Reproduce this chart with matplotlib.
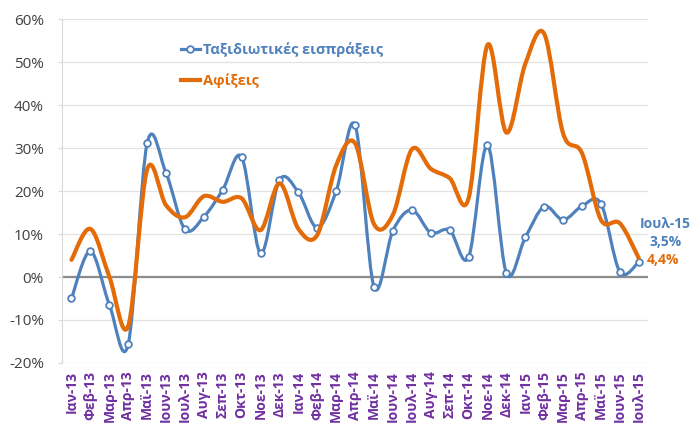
import matplotlib

matplotlib.use("Agg")

import matplotlib.pyplot as plt
import numpy as np
from matplotlib.lines import Line2D
from matplotlib.patches import PathPatch
from matplotlib.path import Path

plt.rcParams["font.family"] = ["Open Sans", "DejaVu Sans"]

BLUE = "#4F81BD"
ORANGE = "#E36C09"
PURPLE = "#7030A0"

months = ["Ιαν", "Φεβ", "Μαρ", "Απρ", "Μαϊ", "Ιουν", "Ιουλ", "Αυγ", "Σεπ", "Οκτ", "Νοε", "Δεκ"]
labels = [f"{m}-{y}" for y in ("13", "14") for m in months] + [f"{m}-15" for m in months[:7]]

# year-on-year change, %
receipts = [-5.0, 6.0, -6.4, -15.6, 31.1, 24.2, 11.1, 14.0, 20.3, 27.9, 5.5, 22.6,
            19.7, 11.5, 20.0, 35.3, -2.3, 10.8, 15.6, 10.3, 10.9, 4.6, 30.7, 0.9,
            9.2, 16.4, 13.3, 16.5, 17.1, 1.2, 3.5]
arrivals = [4.0, 11.2, 0.1, -11.4, 25.0, 16.7, 13.9, 18.8, 17.5, 18.3, 10.9, 21.8,
            11.2, 9.8, 26.0, 31.1, 12.3, 14.5, 29.7, 25.2, 23.0, 18.3, 54.0, 33.6,
            49.6, 56.6, 33.4, 28.8, 13.3, 12.5, 4.4]


def smooth_path(x, y):
    """Catmull-Rom curve through the points, as cubic bezier segments."""
    pts = np.column_stack([x, y]).astype(float)
    ext = np.vstack([pts[0], pts, pts[-1]])
    verts = [pts[0]]
    codes = [Path.MOVETO]
    for i in range(len(pts) - 1):
        p0, p1, p2, p3 = ext[i], ext[i + 1], ext[i + 2], ext[i + 3]
        verts += [p1 + (p2 - p0) / 6, p2 - (p3 - p1) / 6, p2]
        codes += [Path.CURVE4] * 3
    return Path(verts, codes)


fig = plt.figure(figsize=(6.97, 4.26), dpi=100)
ax = fig.add_axes([0.089, 0.148, 0.841, 0.807])

x = np.arange(len(labels))

ax.add_patch(PathPatch(smooth_path(x, receipts), fill=False, edgecolor=BLUE, lw=2.3,
                       capstyle="round", joinstyle="round", zorder=3))
ax.plot(x, receipts, ls="none", marker="o", ms=4.8, mfc="white", mec=BLUE, mew=1.3, zorder=4)
ax.add_patch(PathPatch(smooth_path(x, arrivals), fill=False, edgecolor=ORANGE, lw=3.0,
                       capstyle="round", joinstyle="round", zorder=5))

ax.set_xlim(-0.5, len(labels) - 0.5)
ax.set_ylim(-20, 60)
ax.set_yticks(np.arange(-20, 61, 10))
ax.set_yticklabels([f"{v}%" for v in range(-20, 61, 10)], fontsize=11, color="#404040")
ax.set_xticks(x)
ax.set_xticklabels(labels, rotation=90, fontsize=10, fontweight="bold", color=PURPLE)
ax.tick_params(axis="x", length=0, pad=6)
ax.tick_params(axis="y", length=3, width=0.8, color="#D9D9D9", pad=10)

ax.grid(axis="y", color="#E3E3E3", lw=0.9)
ax.set_axisbelow(True)
ax.axhline(0, color="#8C8C8C", lw=1.6, zorder=2)
for side in ("top", "right", "bottom"):
    ax.spines[side].set_visible(False)
ax.spines["left"].set_color("#D9D9D9")

handles = [
    Line2D([], [], color=BLUE, lw=2.3, marker="o", ms=4.8, mfc="white", mec=BLUE, mew=1.3),
    Line2D([], [], color=ORANGE, lw=3.0),
]
leg = ax.legend(handles, ["Ταξιδιωτικές εισπράξεις", "Αφίξεις"], loc="upper left",
                bbox_to_anchor=(0.18, 0.97), frameon=False, handlelength=1.3,
                handletextpad=0.2, labelspacing=1.05,
                prop={"size": 10.5, "weight": "bold"})
for text, c in zip(leg.get_texts(), [BLUE, ORANGE]):
    text.set_color(c)

last = len(labels) - 1
ax.text(last + 1.4, 12.3, labels[-1], color=BLUE, fontsize=10, fontweight="bold",
        ha="center", va="center", clip_on=False)
ax.text(last + 1.4, 8.1, f"{receipts[-1]:.1f}%".replace(".", ","), color=BLUE,
        fontsize=10, fontweight="bold", ha="center", va="center", clip_on=False)
ax.text(last + 1.3, 4.0, f"{arrivals[-1]:.1f}%".replace(".", ","), color=ORANGE,
        fontsize=10, fontweight="bold", ha="center", va="center", clip_on=False)

fig.savefig("out.png", dpi=100)
